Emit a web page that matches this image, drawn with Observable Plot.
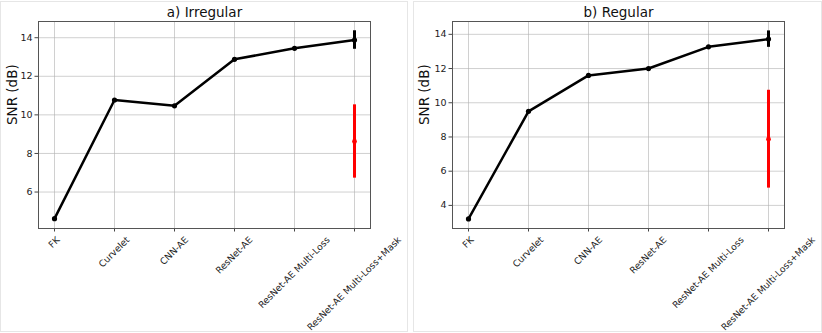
<!DOCTYPE html>
<html><head><meta charset="utf-8">
<script src="https://cdn.jsdelivr.net/npm/d3@7"></script>
<script src="https://cdn.jsdelivr.net/npm/@observablehq/plot@0.6"></script>
<style>
body{margin:0;background:#fff;font-family:"DejaVu Sans",sans-serif;}
#wrap{position:relative;width:822px;height:333px;overflow:hidden;background:#fff;}
.card{position:absolute;top:1px;height:331px;border:1px solid #e6e6e6;box-sizing:border-box;}
.panel{position:absolute;top:0;}
</style></head><body>
<div id="wrap">
<div class="card" style="left:0;width:408px"></div>
<div class="card" style="left:413px;width:409px"></div>
<div class="panel" id="p1" style="left:0"></div>
<div class="panel" id="p2" style="left:411px"></div>
</div>
<script>
const methods = ["FK", "Curvelet", "CNN-AE", "ResNet-AE", "ResNet-AE Multi-Loss", "ResNet-AE Multi-Loss+Mask"];
const snrIrregular = [4.62, 10.77, 10.47, 12.88, 13.45, 13.88];
const errIrregular = 0.48;
const redIrregular = 8.62;
const redErrIrregular = 1.9;
const snrRegular = [3.21, 9.5, 11.6, 12.0, 13.27, 13.72];
const errRegular = 0.48;
const redRegular = 7.87;
const redErrRegular = 2.86;
const ticksIrregular = [6, 8, 10, 12, 14];
const ticksRegular = [4, 6, 8, 10, 12, 14];
const titles = ["a) Irregular", "b) Regular"];
const yLabel = "SNR (dB)";

function panel(el, {title, values, err, red, redErr, domain, ticks, width, marginLeft, marginRight, labelDx}) {
  const data = methods.map((m, i) => ({method: m, snr: values[i]}));
  const last = data[data.length - 1];
  const redPt = [{method: last.method, snr: red}];
  const plot = Plot.plot({
    width, height: 333, marginLeft, marginRight, marginTop: 21, marginBottom: 105,
    style: {fontFamily: '"DejaVu Sans", sans-serif', color: "#222", background: "transparent", overflow: "visible"},
    x: {type: "point", domain: methods, padding: 0.25},
    y: {domain, ticks},
    marks: [
      Plot.gridX(methods, {stroke: "#b0b0b0", strokeOpacity: 0.6}),
      Plot.gridY(ticks, {stroke: "#b0b0b0", strokeOpacity: 0.6}),
      Plot.axisY(ticks, {tickSize: 3.5, tickPadding: 2.5, fontSize: 9.5, label: null, stroke: "#444"}),
      Plot.axisX(methods, {tickSize: 3.5, fontSize: 9.2, label: null, tickRotate: -45, textAnchor: "middle", stroke: "#444"}),
      Plot.line(data, {x: "method", y: "snr", stroke: "black", strokeWidth: 2.5}),
      Plot.dot(data, {x: "method", y: "snr", r: 2.6, fill: "black"}),
      Plot.ruleX([last], {x: "method", y1: d => d.snr - err, y2: d => d.snr + err, stroke: "black", strokeWidth: 3}),
      Plot.ruleX(redPt, {x: "method", y1: d => d.snr - redErr, y2: d => d.snr + redErr, stroke: "red", strokeWidth: 3}),
      Plot.dot(redPt, {x: "method", y: "snr", r: 2.4, fill: "red"}),
      Plot.frame({stroke: "#555"}),
      Plot.text([title], {frameAnchor: "top", dy: -9, fontSize: 13.5, fill: "#111", lineAnchor: "middle"}),
      Plot.text([yLabel], {frameAnchor: "left", rotate: -90, dx: labelDx, fontSize: 13.5, fill: "#111", lineAnchor: "middle"})
    ]
  });
  el.appendChild(plot);
  const xs = plot.scale("x");
  const svg = d3.select(plot);
  const bottom = 333 - 105;
  svg.selectAll('g[aria-label="x-axis tick label"]').attr("transform", null).each(function() {
    d3.select(this).selectAll("text").each(function() {
      const t = d3.select(this);
      const m = this.textContent;
      const L = this.getComputedTextLength();
      const tx = xs.apply(m);
      const cy = bottom + 7 + 0.7071 * (L / 2 + 4.5);
      t.attr("x", null).attr("y", null).attr("dy", "0.35em")
        .attr("text-anchor", "middle")
        .attr("transform", `translate(${tx},${cy}) rotate(-45)`);
    });
  });
}

panel(document.getElementById("p1"), {
  title: titles[0], values: snrIrregular, err: errIrregular, red: redIrregular, redErr: redErrIrregular,
  domain: [4.11, 14.84], ticks: ticksIrregular, width: 410, marginLeft: 38, marginRight: 40, labelDx: -26
});
panel(document.getElementById("p2"), {
  title: titles[1], values: snrRegular, err: errRegular, red: redRegular, redErr: redErrRegular,
  domain: [2.65, 14.75], ticks: ticksRegular, width: 411, marginLeft: 41, marginRight: 38, labelDx: -28
});
</script>
</body></html>
